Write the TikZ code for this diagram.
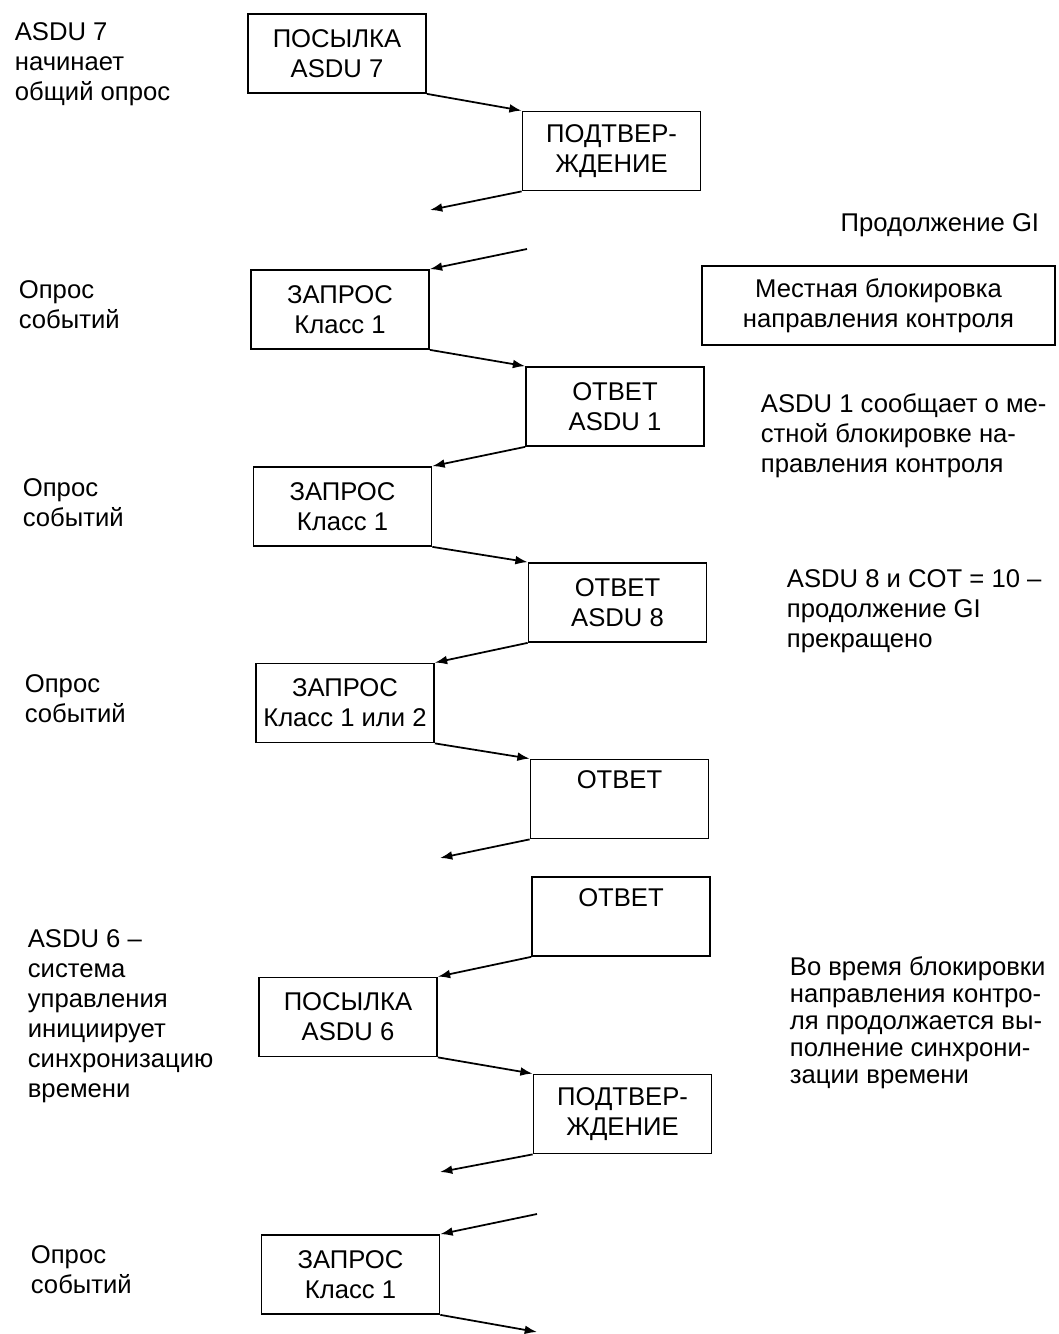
\documentclass[tikz,border=0pt]{standalone}
\usepackage{fontspec}
\setmainfont{Liberation Sans}
\usetikzlibrary{arrows.meta}
\begin{document}
\begin{tikzpicture}[x=0.02cm,y=-0.02cm,line width=1pt,>={Latex[length=7pt,width=5pt]},
msgblock/.style={draw,rectangle,inner sep=0pt,minimum width=3.56cm,minimum height=1.58cm,align=center,font=\fontsize{14.6}{17}\selectfont},
stateblock/.style={draw,rectangle,inner sep=0pt,minimum width=7.06cm,minimum height=1.58cm,align=center,font=\fontsize{14.6}{17}\selectfont},
note/.style={inner sep=0pt,align=left,anchor=north west,font=\fontsize{14.6}{17}\selectfont}]

\useasboundingbox (0,0) rectangle (1058,1334);

\draw (337,53.5) node[msgblock] (send7) {ПОСЫЛКА\\ASDU 7};
\draw (611.5,151) node[msgblock] (ack7) {ПОДТВЕР-\\ЖДЕНИЕ};
\draw (340,309.5) node[msgblock] (req1) {ЗАПРОС\\Класс 1};
\draw (615,406.5) node[msgblock] (resp1) {ОТВЕТ\\ASDU 1};
\draw (342.5,506.5) node[msgblock] (req2) {ЗАПРОС\\Класс 1};
\draw (617.5,602.5) node[msgblock] (resp8) {ОТВЕТ\\ASDU 8};
\draw (345,703) node[msgblock] (req3) {ЗАПРОС\\Класс 1 или 2};
\draw (619.5,799) node[msgblock] (resp3) {ОТВЕТ\\\strut};
\draw (621,916.5) node[msgblock] (resp4) {ОТВЕТ\\\strut};
\draw (348,1017) node[msgblock] (send6) {ПОСЫЛКА\\ASDU 6};
\draw (622.5,1114) node[msgblock] (ack6) {ПОДТВЕР-\\ЖДЕНИЕ};
\draw (350.5,1274.5) node[msgblock] (req4) {ЗАПРОС\\Класс 1};
\draw (878.5,305.5) node[stateblock] (lock) {Местная блокировка\\направления контроля};

\coordinate (ack7end) at (430,210);
\coordinate (gistart) at (527,249);
\coordinate (resp3end) at (440,858);
\coordinate (ack6end) at (440,1172);
\coordinate (req4start) at (537,1214);
\coordinate (req4end) at (537,1332);

\draw[->] (send7.south east) -- (ack7.north west);
\draw[->] (ack7.south west) -- (ack7end);
\draw[->] (gistart) -- (req1.north east);
\draw[->] (req1.south east) -- (resp1.north west);
\draw[->] (resp1.south west) -- (req2.north east);
\draw[->] (req2.south east) -- (resp8.north west);
\draw[->] (resp8.south west) -- (req3.north east);
\draw[->] (req3.south east) -- (resp3.north west);
\draw[->] (resp3.south west) -- (resp3end);
\draw[->] (resp4.south west) -- (send6.north east);
\draw[->] (send6.south east) -- (ack6.north west);
\draw[->] (ack6.south west) -- (ack6end);
\draw[->] (req4start) -- (req4.north east);
\draw[->] (req4.south east) -- (req4end);

\node[note] (gistarttext) at (14,22) {ASDU 7\\начинает\\общий опрос};
\node[note] (poll1) at (18,280) {Опрос\\событий};
\node[note] (poll2) at (22,478) {Опрос\\событий};
\node[note] (poll3) at (24,674) {Опрос\\событий};
\node[note] (synctext) at (27,929) {ASDU 6 –\\система\\управления\\инициирует\\синхронизацию\\времени};
\node[note] (poll4) at (30,1245) {Опрос\\событий};
\node[note,anchor=base east] (gicont) at (1040,232) {Продолжение GI};
\node[note] (locktext) at (760,393) {ASDU 1 сообщает о ме-\\стной блокировке на-\\правления контроля};
\node[note] (gistop) at (786,569) {ASDU 8 и COT = 10 –\\продолжение GI\\прекращено};
\node[note,font=\fontsize{14.6}{15.3}\selectfont] (synclock) at (789,956) {Во время блокировки\\направления контро-\\ля продолжается вы-\\полнение синхрони-\\зации времени};
\end{tikzpicture}
\end{document}
